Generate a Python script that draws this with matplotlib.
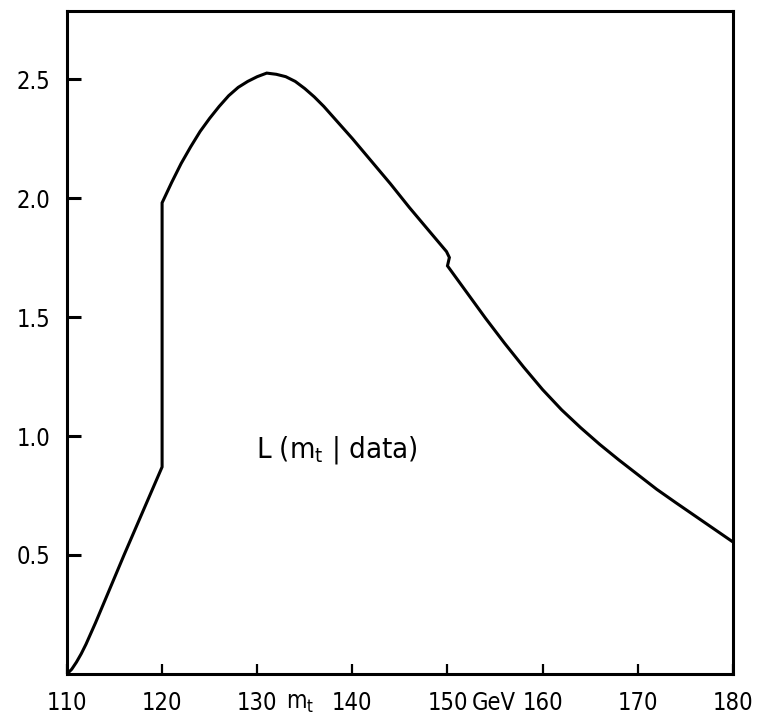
import matplotlib
matplotlib.use('Agg')
import matplotlib.pyplot as plt

plt.rcParams.update({
    'font.family': ['Liberation Sans Narrow', 'DejaVu Sans'],
    'font.stretch': 'condensed',
    'mathtext.default': 'regular',
})

# Likelihood L(m_t | data)
mt = [110.0, 110.5, 111.0, 111.5, 112.0, 113.0, 114.0, 116.0, 118.0, 120.0,
      120.0, 121.0, 122.0, 123.0, 124.0, 125.0, 126.0, 127.0, 128.0, 129.0,
      130.0, 131.0, 132.0, 133.0, 134.0, 135.0, 136.0, 137.0, 138.0, 139.0,
      140.0, 142.0, 144.0, 146.0, 148.0, 149.9, 150.2, 150.0,
      152.0, 154.0, 156.0, 158.0, 160.0, 162.0, 164.0, 166.0, 168.0,
      170.0, 172.0, 174.0, 176.0, 178.0, 180.0]
like = [0.0, 0.02, 0.05, 0.085, 0.125, 0.215, 0.31, 0.50, 0.685, 0.87,
        1.98, 2.065, 2.145, 2.215, 2.28, 2.335, 2.385, 2.43, 2.465, 2.49,
        2.51, 2.525, 2.52, 2.51, 2.49, 2.46, 2.425, 2.385, 2.34, 2.295,
        2.25, 2.155, 2.06, 1.96, 1.865, 1.775, 1.75, 1.715,
        1.605, 1.495, 1.39, 1.29, 1.195, 1.11, 1.035, 0.965, 0.90,
        0.838, 0.776, 0.72, 0.665, 0.61, 0.555]

x_ticks = [110, 120, 130, 140, 150, 160, 170, 180]
y_ticks = [0.5, 1.0, 1.5, 2.0, 2.5]

fig = plt.figure(figsize=(7.61, 7.18), dpi=100)
ax = fig.add_axes([0.088, 0.0613, 0.875, 0.9234])

ax.plot(mt, like, color='black', lw=2.2, solid_joinstyle='miter')

ax.set_xlim(110, 180)
ax.set_ylim(0, 2.786)
ax.set_xticks(x_ticks)
ax.set_xticklabels([str(t) for t in x_ticks])
ax.set_yticks(y_ticks)
ax.set_yticklabels([f'{t:.1f}' for t in y_ticks])

for s in ax.spines.values():
    s.set_linewidth(2.2)

ax.tick_params(axis='y', direction='in', length=10, width=2.2, labelsize=17, pad=12)
ax.tick_params(axis='x', direction='in', length=7, width=1.6, labelsize=17, pad=12)

# axis annotations placed among the x tick labels
ax.text(134.5, -0.07, 'm$_t$', ha='center', va='top', fontsize=17, clip_on=False)
ax.text(154.9, -0.07, 'GeV', ha='center', va='top', fontsize=17, clip_on=False)

ax.text(138.4, 0.94, 'L (m$_t$ | data)', ha='center', va='center', fontsize=21)

fig.savefig('out.png', dpi=100)
plt.close()
